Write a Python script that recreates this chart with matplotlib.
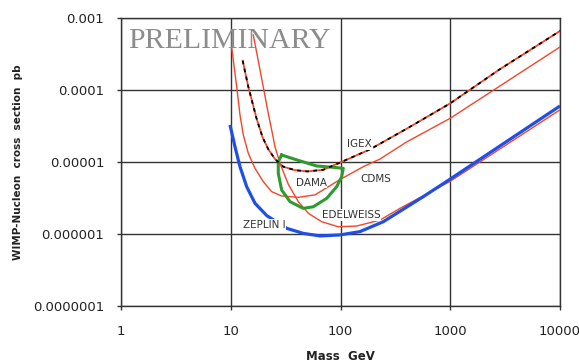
import numpy as np
import matplotlib
matplotlib.use("Agg")
import matplotlib.pyplot as plt
from matplotlib.ticker import FixedLocator, FixedFormatter, NullLocator

# limit curves: WIMP mass (GeV), cross section (pb)
igex_m = [12.85, 14.45, 17.2, 19.5, 22.0, 25.3, 30.1, 38.5, 50.0, 69.7, 98.9, 186, 401, 1000, 2840, 10000]
igex_s = [2.55e-4, 1.11e-4, 4.0e-5, 2.2e-5, 1.5e-5, 1.1e-5, 8.6e-6, 7.7e-6, 7.4e-6, 7.8e-6, 9.8e-6,
          1.5e-5, 2.9e-5, 6.53e-5, 1.95e-4, 6.6e-4]

cdms_m = [10.2, 11.33, 12.14, 13.02, 14.45, 16.63, 19.8, 23.61, 29.12, 41.26, 58.6, 86.0, 98.9, 161,
          229, 401, 1000, 10000]
cdms_s = [3.9e-4, 1.11e-4, 4.5e-5, 2.37e-5, 1.32e-5, 8.17e-6, 5.33e-6, 3.87e-6, 3.37e-6, 3.23e-6,
          3.5e-6, 5.0e-6, 5.7e-6, 8.6e-6, 1.1e-5, 1.9e-5, 4.05e-5, 3.96e-4]

edel_m = [16.05, 18.48, 21.99, 23.61, 25.3, 28.1, 33.45, 41.26, 50.9, 67.4, 95.5, 140, 229, 348,
          1000, 10000]
edel_s = [5.81e-4, 1.90e-4, 4.7e-5, 2.78e-5, 1.63e-5, 9.59e-6, 4.9e-6, 2.81e-6, 1.94e-6, 1.48e-6,
          1.26e-6, 1.29e-6, 1.56e-6, 2.27e-6, 5.4e-6, 5.3e-5]

zeplin_m = [9.84, 10.93, 12.14, 13.97, 16.63, 21.3, 32.3, 45.8, 65.1, 98.9, 150.5, 245, 568, 1000, 10000]
zeplin_s = [3.27e-5, 1.63e-5, 8.6e-6, 4.54e-6, 2.67e-6, 1.8e-6, 1.20e-6, 1.02e-6, 9.4e-7, 9.7e-7,
            1.08e-6, 1.48e-6, 3.30e-6, 5.8e-6, 6.0e-5]

# DAMA allowed region (closed contour)
dama_m = [29.1, 39.9, 60.7, 86.0, 106, 102.5, 92.3, 74.9, 56.5, 45.8, 34.7, 29.1, 27.1, 27.1, 29.1]
dama_s = [1.25e-5, 1.07e-5, 8.8e-6, 8.44e-6, 8.17e-6, 6.25e-6, 4.54e-6, 3.13e-6, 2.39e-6, 2.27e-6,
          2.81e-6, 4.08e-6, 6.97e-6, 1.01e-5, 1.25e-5]

x_ticks = [1, 10, 100, 1000, 10000]
x_labels = ["1", "10", "100", "1000", "10000"]
y_ticks = [1e-7, 1e-6, 1e-5, 1e-4, 1e-3]
y_labels = ["0.0000001", "0.000001", "0.00001", "0.0001", "0.001"]

red = "#f2462a"
blue = "#1f4fe6"
green = "#2f9a2f"
gridc = "#333333"

fig = plt.figure(figsize=(5.79, 3.62), dpi=100)
ax = fig.add_axes([121 / 579, 1 - 306 / 362, (560 - 121) / 579, (306 - 18) / 362])
ax.set_xscale("log")
ax.set_yscale("log")
ax.set_xlim(1, 10000)
ax.set_ylim(1e-7, 1e-3)

ax.plot(cdms_m, cdms_s, color=red, lw=1.0, zorder=3)
ax.plot(edel_m, edel_s, color=red, lw=1.0, zorder=3)
ax.plot(zeplin_m, zeplin_s, color=blue, lw=2.3, zorder=4, solid_capstyle="butt")
ax.plot(igex_m, igex_s, color=red, lw=1.3, zorder=5)
ax.plot(igex_m, igex_s, color="black", lw=1.3, ls=(0, (2, 2.5)), zorder=6)
ax.plot(dama_m, dama_s, color=green, lw=2.2, zorder=5, solid_joinstyle="round")

lab = dict(fontsize=7.5, color="#333333", ha="center", va="center", zorder=8,
           bbox=dict(facecolor="white", edgecolor="none", pad=0.6))
ax.text(150, 1.78e-5, "IGEX", **lab)
ax.text(211, 5.8e-6, "CDMS", **lab)
ax.text(53.9, 5.19e-6, "DAMA", **lab)
ax.text(125, 1.84e-6, "EDELWEISS", **lab)
ax.text(20.1, 1.33e-6, "ZEPLIN I", **lab)

ax.xaxis.set_major_locator(FixedLocator(x_ticks))
ax.xaxis.set_major_formatter(FixedFormatter(x_labels))
ax.yaxis.set_major_locator(FixedLocator(y_ticks))
ax.yaxis.set_major_formatter(FixedFormatter(y_labels))
ax.xaxis.set_minor_locator(NullLocator())
ax.yaxis.set_minor_locator(NullLocator())
ax.grid(True, color=gridc, lw=1.0)
ax.set_axisbelow(True)
for sp in ax.spines.values():
    sp.set_color(gridc)
    sp.set_linewidth(1.0)
ax.tick_params(axis="both", direction="out", length=3, width=1.0, color=gridc,
               labelsize=9.5, labelcolor="#222222")
ax.tick_params(axis="x", pad=10.5)
ax.tick_params(axis="y", pad=9.0)

fig.text(128 / 579, 1 - 48 / 362, "PRELIMINARY", family="Liberation Serif", fontsize=21.5,
         color="#8c8c8c", ha="left", va="baseline")
fig.text(18 / 579, 1 - 162 / 362, "WIMP-Nucleon  cross  section  pb", rotation=90,
         fontsize=7.5, fontweight="bold", color="#222222", ha="center", va="center")
fig.text(340 / 579, 1 - 357 / 362, "Mass  GeV", fontsize=8.5, fontweight="bold",
         color="#222222", ha="center", va="center")

fig.savefig("out.png", dpi=100)
